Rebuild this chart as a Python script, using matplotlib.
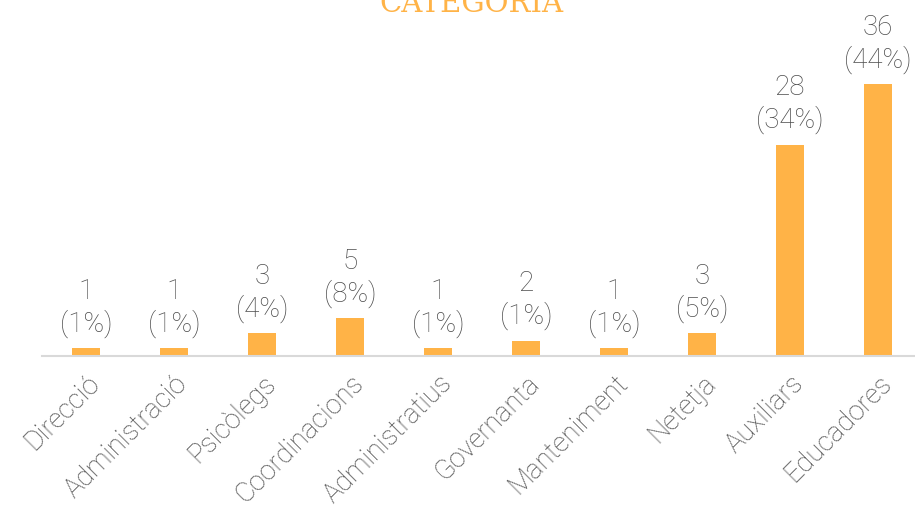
import matplotlib.pyplot as plt

categories = ["Direcció", "Administració", "Psicòlegs", "Coordinacions", "Administratius",
              "Governanta", "Manteniment", "Netetja", "Auxiliars", "Educadores"]
counts = [1, 1, 3, 5, 1, 2, 1, 3, 28, 36]
pcts = ["1%", "1%", "4%", "8%", "1%", "1%", "1%", "5%", "34%", "44%"]

BAR = "#FFB347"
TXT = "#4D4D4D"

W, H = 915, 513
fig = plt.figure(figsize=(W / 100, H / 100), dpi=100)
# axis baseline at y=356 px, 7.55 px per unit
base = H - 356
ax = fig.add_axes([42 / W, base / H, 880 / W, 40 * 7.55 / H])

x = range(len(categories))
ax.bar(x, counts, width=0.32, color=BAR, zorder=2)
for i, (c, p) in enumerate(zip(counts, pcts)):
    ax.text(i, c + 1.4, f"{c}\n({p})", ha="center", va="bottom", fontsize=20,
            family="Roboto", fontweight="light", color=TXT, linespacing=1.2)

ax.set_xlim(-0.5, 9.5)
ax.set_ylim(0, 40)
for s in ["top", "right", "left"]:
    ax.spines[s].set_visible(False)
ax.spines["bottom"].set_color("#D9D9D9")
ax.spines["bottom"].set_linewidth(1.5)
ax.set_yticks([])
ax.set_xticks(list(x))
ax.set_xticklabels(categories, rotation=45, ha="right", rotation_mode="anchor",
                   fontsize=19.5, family="Roboto", fontweight="light", color=TXT)
ax.tick_params(axis="x", length=0, pad=10)

fig.text(471 / W, (H - 12) / H, "CATEGORIA", ha="center", va="baseline",
         fontsize=21, family="DejaVu Serif", color=BAR)

fig.savefig("out.png", dpi=100)
